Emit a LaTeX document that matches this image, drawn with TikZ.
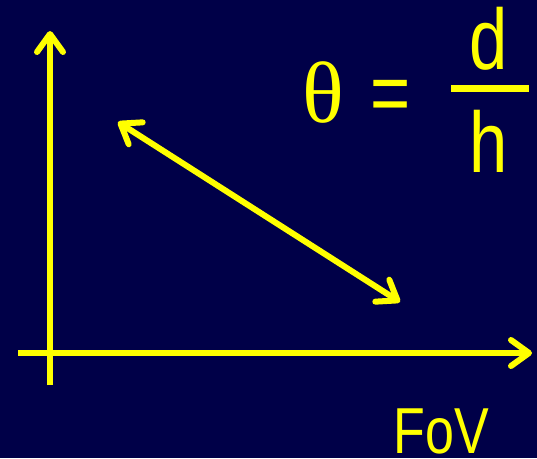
\documentclass[tikz,border=0pt]{standalone}
\usepackage{fontspec}
\setmainfont{Liberation Serif}
\newfontfamily\arialfont{Liberation Sans}
\usetikzlibrary{arrows.meta}
\definecolor{slidebg}{HTML}{000048}
\definecolor{slideyellow}{HTML}{FFFF00}
\newcommand{\narrow}[1]{\scalebox{0.8}[1]{#1}}

\begin{document}
\begin{tikzpicture}[x=1pt, y=-1pt,
  barb/.tip={Straight Barb[length=18pt, width=26pt, round]},
  axis/.style={slideyellow, line width=6pt},
  bigsans/.style={slideyellow, inner sep=0pt, anchor=base, font=\arialfont\fontsize{86}{86}\selectfont}]
  \fill[slidebg] (0,0) rectangle (537,458);

  % axes
  \coordinate (xstart) at (18,353);
  \coordinate (xend) at (532,353);
  \coordinate (ystart) at (50,385);
  \coordinate (yend) at (50,31);
  \draw[axis, -barb] (xstart) -- (xend);
  \draw[axis, -barb] (ystart) -- (yend);

  % double arrow
  \coordinate (upper) at (118,122);
  \coordinate (lower) at (400,302);
  \draw[axis, barb-barb] (upper) -- (lower);

  % theta = d/h
  \node[slideyellow, inner sep=0pt, anchor=base, font=\fontsize{87}{87}\selectfont] (theta) at (323,122) {θ};
  \node[bigsans] (equals) at (391,122) {\narrow{=}};
  \node[bigsans] (num) at (489,69) {\narrow{d}};
  \node[bigsans] (den) at (489,172) {\narrow{h}};
  \coordinate (barleft) at (451,88);
  \coordinate (barright) at (529,88);
  \draw[slideyellow, line width=7pt] (barleft) -- (barright);

  \node[bigsans, font=\arialfont\fontsize{65}{65}\selectfont] (fov) at (441,453) {\narrow{FoV}};
\end{tikzpicture}
\end{document}
